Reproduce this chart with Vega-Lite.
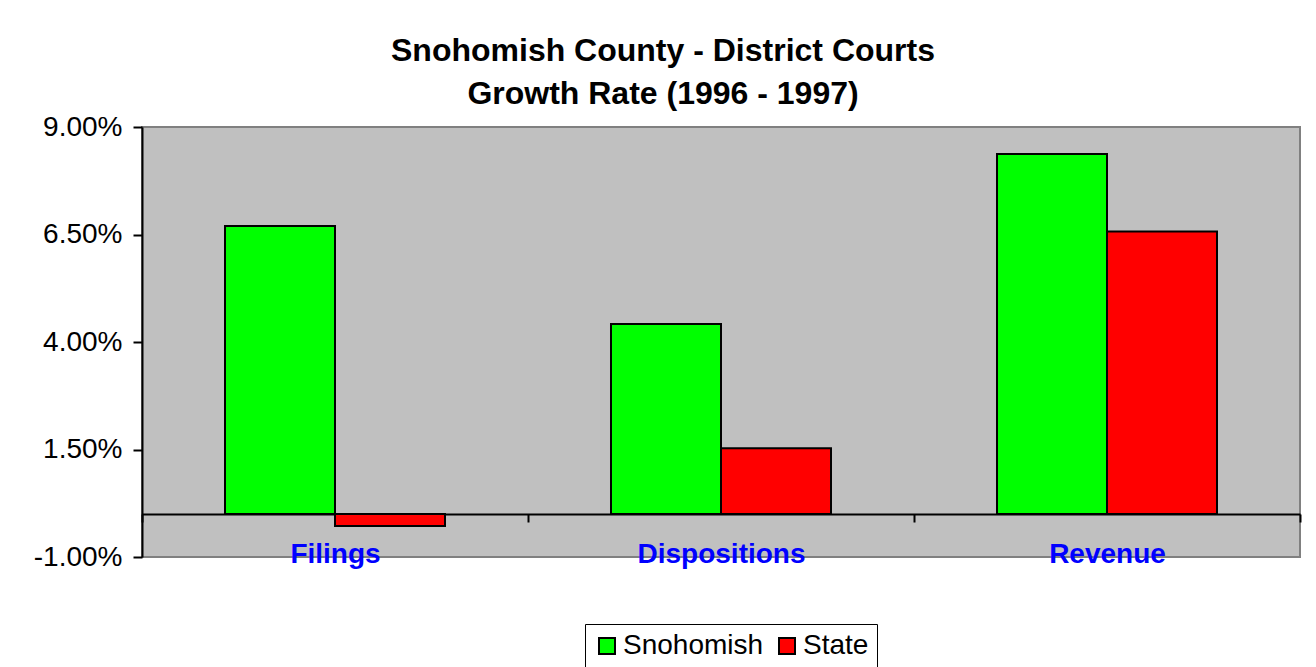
{
  "$schema": "https://vega.github.io/schema/vega-lite/v6.json",
  "autosize": {"type": "none"},
  "width": 1158,
  "height": 430,
  "padding": {"left": 142, "top": 127, "right": 16, "bottom": 110},
  "background": "white",
  "title": {
    "text": ["Snohomish County - District Courts", "Growth Rate (1996 - 1997)"],
    "font": "Liberation Sans",
    "fontSize": 32,
    "fontWeight": "bold",
    "color": "black",
    "lineHeight": 43,
    "anchor": "middle",
    "dx": -58,
    "offset": 2
  },
  "data": {
    "values": [
      {"category": "Filings", "series": "Snohomish", "rate": 0.067},
      {"category": "Filings", "series": "State", "rate": -0.0028},
      {"category": "Dispositions", "series": "Snohomish", "rate": 0.0442},
      {"category": "Dispositions", "series": "State", "rate": 0.0153},
      {"category": "Revenue", "series": "Snohomish", "rate": 0.0837},
      {"category": "Revenue", "series": "State", "rate": 0.0657}
    ]
  },
  "mark": {"type": "bar", "stroke": "black", "strokeWidth": 2},
  "encoding": {
    "x": {
      "field": "category",
      "type": "nominal",
      "sort": ["Filings", "Dispositions", "Revenue"],
      "scale": {"paddingInner": 0, "paddingOuter": 0},
      "axis": {
        "title": null,
        "offset": -43,
        "domainColor": "black",
        "domainWidth": 2,
        "tickColor": "black",
        "tickWidth": 2,
        "tickSize": 8,
        "tickBand": "extent",
        "labelAngle": 0,
        "labelFont": "Liberation Sans",
        "labelFontSize": 28,
        "labelFontWeight": "bold",
        "labelColor": "#0000FF",
        "labelPadding": 18
      }
    },
    "xOffset": {
      "field": "series",
      "type": "nominal",
      "sort": ["Snohomish", "State"],
      "scale": {"paddingInner": 0, "paddingOuter": 0.7545}
    },
    "y": {
      "field": "rate",
      "type": "quantitative",
      "scale": {"domain": [-0.01, 0.09], "nice": false, "zero": false},
      "axis": {
        "title": null,
        "values": [-0.01, 0.015, 0.04, 0.065, 0.09],
        "format": ".2%",
        "labelExpr": "replace(datum.label, '−', '-')",
        "grid": false,
        "domainColor": "black",
        "domainWidth": 2,
        "tickColor": "black",
        "tickWidth": 2,
        "tickSize": 9,
        "labelFont": "Liberation Sans",
        "labelFontSize": 28,
        "labelColor": "black",
        "labelPadding": 11
      }
    },
    "color": {
      "field": "series",
      "type": "nominal",
      "sort": ["Snohomish", "State"],
      "scale": {"domain": ["Snohomish", "State"], "range": ["#00FF00", "#FF0000"]},
      "legend": {
        "title": null,
        "orient": "none",
        "direction": "horizontal",
        "legendX": 443,
        "legendY": 497,
        "strokeColor": "black",
        "padding": 8,
        "symbolType": "square",
        "symbolSize": 256,
        "symbolStrokeColor": "black",
        "symbolStrokeWidth": 2,
        "symbolOpacity": 1,
        "labelFont": "Liberation Sans",
        "labelFontSize": 28,
        "labelColor": "black",
        "labelOffset": 2,
        "columnPadding": 9
      }
    }
  },
  "config": {
    "view": {"fill": "#C0C0C0", "stroke": "#808080", "strokeWidth": 2}
  }
}
